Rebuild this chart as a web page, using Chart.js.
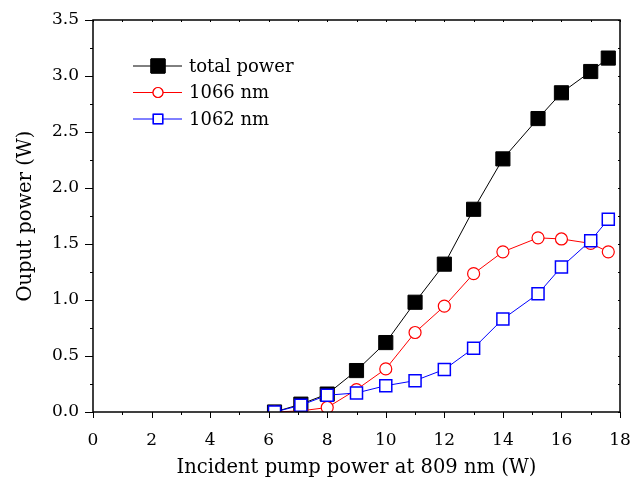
<!DOCTYPE html>
<html lang="en">
  <head>
    <meta charset="UTF-8">
    <title>Output power vs pump power</title>
    <script src="https://cdn.jsdelivr.net/npm/chart.js"></script>
    <style>
      body { margin: 0; background: #fff; }
      #powerChart { display: block; }
    </style>
  </head>
  <body>
    <canvas id="powerChart" width="631" height="480"></canvas>

    <script>
      // pump power (W) and the three measured curves (W)
      const pumpPower = [6.2, 7.1, 8.0, 9.0, 10.0, 11.0, 12.0, 13.0, 14.0, 15.2, 16.0, 17.0, 17.6];
      const totalPower = [0, 0.07, 0.16, 0.37, 0.62, 0.98, 1.32, 1.81, 2.26, 2.62, 2.85, 3.04, 3.16];
      const power1066 = [0, 0.01, 0.04, 0.20, 0.385, 0.71, 0.945, 1.235, 1.43, 1.555, 1.545, 1.505, 1.43];
      const power1062 = [0, 0.06, 0.15, 0.17, 0.235, 0.28, 0.38, 0.57, 0.83, 1.055, 1.295, 1.53, 1.72];
      const seriesNames = ['total power', '1066 nm', '1062 nm'];

      const FONT = 'DejaVu Serif';
      const toPoints = ys => pumpPower.map((x, i) => ({ x: x, y: ys[i] }));

      // frame, minor ticks and the legend box are drawn by hand
      const framePlugin = {
        id: 'frame',
        afterDatasetsDraw(chart) {
          const { ctx, chartArea: a, scales } = chart;
          const xs = scales.x, ys = scales.y;
          ctx.save();
          ctx.strokeStyle = '#000';
          ctx.lineWidth = 1.5;
          ctx.strokeRect(a.left, a.top, a.right - a.left, a.bottom - a.top);
          ctx.lineWidth = 1;
          ctx.beginPath();
          for (let v = 0; v <= 18; v += 1) {
            const px = Math.round(xs.getPixelForValue(v)) + 0.5;
            const len = v % 2 === 0 ? 6 : 3;
            ctx.moveTo(px, a.bottom); ctx.lineTo(px, a.bottom + len);
            ctx.moveTo(px, a.top); ctx.lineTo(px, a.top + 2);
          }
          for (let k = 0; k <= 14; k++) {
            const py = Math.round(ys.getPixelForValue(k * 0.25)) + 0.5;
            const len = k % 2 === 0 ? 8 : 3;
            ctx.moveTo(a.left, py); ctx.lineTo(a.left - len, py);
            ctx.moveTo(a.right, py); ctx.lineTo(a.right - 2, py);
          }
          ctx.stroke();

          // legend
          const ds = chart.data.datasets;
          const legendRadius = [10, 5, 6.7];
          ctx.font = '18px "' + FONT + '"';
          ctx.textBaseline = 'middle';
          seriesNames.forEach((name, i) => {
            const d = ds[i];
            const y = a.top + 46 + i * 26.5;
            const x0 = a.left + 40, x1 = a.left + 89, xm = a.left + 65;
            ctx.strokeStyle = d.borderColor;
            ctx.lineWidth = 1;
            ctx.beginPath();
            ctx.moveTo(x0, y); ctx.lineTo(x1, y);
            ctx.stroke();
            Chart.helpers.drawPoint(ctx, {
              pointStyle: d.pointStyle,
              radius: legendRadius[i],
              borderWidth: d.pointBorderWidth,
              rotation: 0
            }, xm, y);
            ctx.fillStyle = d.pointBackgroundColor;
            ctx.strokeStyle = d.borderColor;
            ctx.lineWidth = d.pointBorderWidth;
            ctx.fill();
            ctx.stroke();
            ctx.fillStyle = '#000';
            ctx.fillText(name, a.left + 96, y + 1);
          });
          ctx.restore();
        }
      };

      new Chart(document.getElementById('powerChart'), {
        type: 'line',
        data: {
          datasets: [
            {
              label: seriesNames[0],
              data: toPoints(totalPower),
              borderColor: '#000',
              borderWidth: 1,
              pointStyle: 'rect',
              pointRadius: 10,
              pointBackgroundColor: '#000',
              pointBorderColor: '#000',
              pointBorderWidth: 1,
              order: 2
            },
            {
              label: seriesNames[1],
              data: toPoints(power1066),
              borderColor: '#ff0000',
              borderWidth: 1,
              pointStyle: 'circle',
              pointRadius: 6,
              pointBackgroundColor: '#fff',
              pointBorderColor: '#ff0000',
              pointBorderWidth: 1.2,
              order: 1
            },
            {
              label: seriesNames[2],
              data: toPoints(power1062),
              borderColor: '#0000ff',
              borderWidth: 1,
              pointStyle: 'rect',
              pointRadius: 8.5,
              pointBackgroundColor: '#fff',
              pointBorderColor: '#0000ff',
              pointBorderWidth: 1.5,
              order: 0
            }
          ]
        },
        options: {
          responsive: false,
          animation: false,
          layout: { padding: { top: 20, right: 11, left: 0, bottom: 0 } },
          plugins: {
            legend: { display: false },
            tooltip: { enabled: false }
          },
          scales: {
            x: {
              type: 'linear',
              min: 0,
              max: 18,
              afterFit: s => { s.height = 68; s.paddingLeft = 0; s.paddingRight = 0; },
              grid: { display: false },
              border: { display: false },
              ticks: {
                stepSize: 2,
                color: '#000',
                padding: 10,
                font: { family: FONT, size: 17 }
              },
              title: {
                display: true,
                text: 'Incident pump power at 809 nm (W)',
                color: '#000',
                font: { family: FONT, size: 19.5 },
                padding: { top: 4, bottom: 0 }
              }
            },
            y: {
              min: 0,
              max: 3.5,
              afterFit: s => { s.width = 93; s.paddingTop = 0; s.paddingBottom = 0; },
              grid: { display: false },
              border: { display: false },
              ticks: {
                stepSize: 0.5,
                color: '#000',
                padding: 6,
                font: { family: FONT, size: 17 },
                callback: v => v.toFixed(1)
              },
              title: {
                display: true,
                text: 'Ouput power (W)',
                color: '#000',
                font: { family: FONT, size: 19.5 },
                padding: { top: 14, bottom: 4 }
              }
            }
          }
        },
        plugins: [framePlugin]
      });
    </script>
  </body>
</html>
